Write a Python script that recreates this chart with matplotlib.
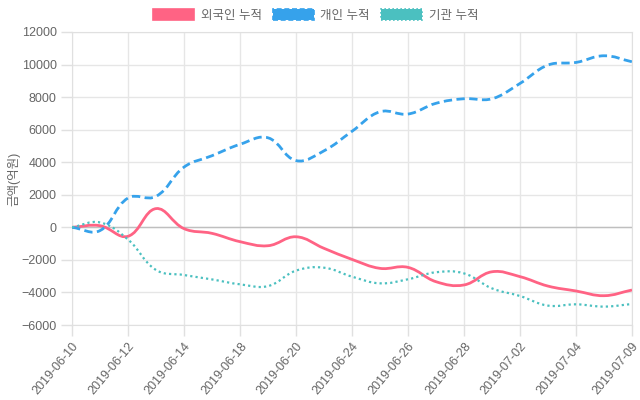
import matplotlib
matplotlib.use("Agg")
import matplotlib.pyplot as plt
import numpy as np
from matplotlib.path import Path
from matplotlib.patches import PathPatch, Patch

plt.rcParams['font.family'] = ['Liberation Sans', 'Noto Sans CJK KR', 'DejaVu Sans']

# ---- data (억원, 누적) ----
dates = ["2019-06-10", "2019-06-11", "2019-06-12", "2019-06-13", "2019-06-14",
         "2019-06-17", "2019-06-18", "2019-06-19", "2019-06-20", "2019-06-21",
         "2019-06-24", "2019-06-25", "2019-06-26", "2019-06-27", "2019-06-28",
         "2019-07-01", "2019-07-02", "2019-07-03", "2019-07-04", "2019-07-08",
         "2019-07-09"]
foreign = [0, 100, -550, 1150, -80, -370, -880, -1130, -580, -1290,
           -1970, -2520, -2460, -3340, -3540, -2730, -3030, -3610, -3910, -4200,
           -3850]
personal = [0, -200, 1800, 1900, 3700, 4400, 5100, 5500, 4100, 4700,
            5900, 7100, 6960, 7620, 7900, 7900, 8840, 9970, 10130, 10540,
            10170]
institution = [0, 300, -750, -2620, -2930, -3200, -3500, -3610, -2660, -2480,
               -3030, -3440, -3190, -2760, -2830, -3750, -4220, -4810, -4730, -4870,
               -4710]
names = ["외국인 누적", "개인 누적", "기관 누적"]
colors = ["#ff6384", "#36a2eb", "#4bc0c0"]

fig = plt.figure(figsize=(6.4, 4.0), dpi=100)
ax = fig.add_axes([72 / 640, 1 - 325 / 400, 560 / 640, 293 / 400])
ax.set_xlim(0, len(dates) - 1)
ax.set_ylim(-6000, 12000)


def smooth_path(ys, tension=0.4):
    # chart.js style bezier spline, computed in pixel space
    xs = np.arange(len(ys), dtype=float)
    pts = ax.transData.transform(np.column_stack([xs, ys]))
    n = len(pts)
    verts = [pts[0]]
    codes = [Path.MOVETO]
    cp_prev = []
    cp_next = []
    for i in range(n):
        p0 = pts[max(i - 1, 0)]
        p1 = pts[i]
        p2 = pts[min(i + 1, n - 1)]
        d01 = np.hypot(*(p1 - p0))
        d12 = np.hypot(*(p2 - p1))
        tot = d01 + d12
        s01 = d01 / tot if tot else 0
        s12 = d12 / tot if tot else 0
        cp_prev.append(p1 - tension * s01 * (p2 - p0))
        cp_next.append(p1 + tension * s12 * (p2 - p0))
    for i in range(1, n):
        verts += [cp_next[i - 1], cp_prev[i], pts[i]]
        codes += [Path.CURVE4] * 3
    inv = ax.transData.inverted()
    return Path(inv.transform(np.array(verts)), codes)


styles = [
    dict(lw=2.0, ls="-"),
    dict(lw=2.0, ls=(0, (3.0, 1.6))),
    dict(lw=1.6, ls=(0, (1.0, 1.4))),
]
for ys, c, st in zip([foreign, personal, institution], colors, styles):
    patch = PathPatch(smooth_path(ys), facecolor="none", edgecolor=c,
                      lw=st["lw"], linestyle=st["ls"], capstyle="butt", zorder=3)
    ax.add_patch(patch)

# grid and ticks
ax.set_yticks(np.arange(-6000, 12001, 2000))
ax.set_xticks(np.arange(0, len(dates), 2))
ax.set_xticklabels(dates[::2], rotation=50, ha="right", rotation_mode="anchor")
ax.grid(True, color="#e6e6e6", lw=1)
ax.axhline(0, color="#bfbfbf", lw=1, zorder=2)
ax.tick_params(axis="both", colors="#e0e0e0", length=8, width=1, labelcolor="#666666",
               labelsize=9, pad=3)
for s in ax.spines.values():
    s.set_color("#e0e0e0")
ax.set_ylabel("금액(억원)", color="#666666", fontsize=9)
ax.yaxis.set_label_coords(-0.093, 0.5)

handles = [Patch(facecolor=c, edgecolor=c, linestyle=st["ls"], lw=1.2)
           for c, st in zip(colors, styles)]
fig.legend(handles, names, loc="upper center", bbox_to_anchor=(0.493, 1.0), ncol=3,
           frameon=False, fontsize=9, labelcolor="#666666", handlelength=3.3,
           handleheight=1.0, handletextpad=0.5, columnspacing=0.9, borderaxespad=0.3)

fig.savefig("out.png", dpi=100)
